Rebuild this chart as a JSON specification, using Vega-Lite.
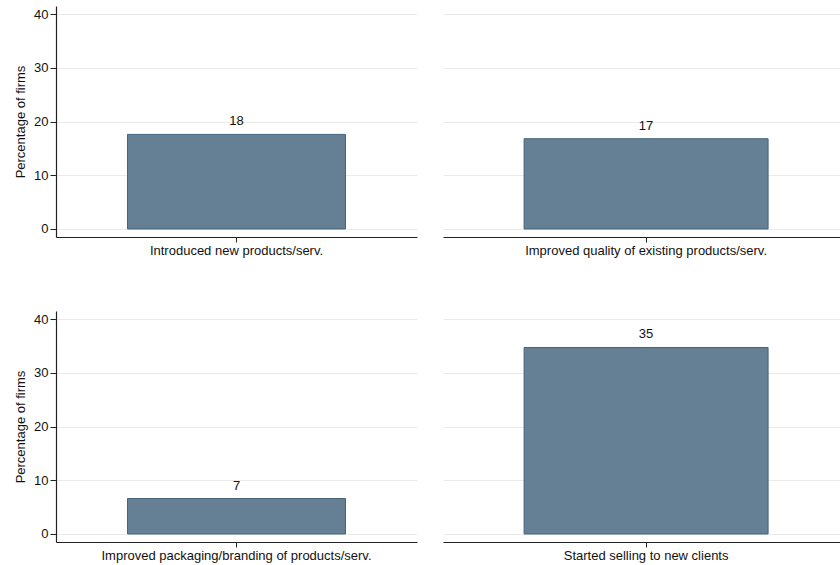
{
  "$schema": "https://vega.github.io/schema/vega-lite/v6.json",
  "background": "white",
  "padding": {"left": 14, "top": 6, "right": 0, "bottom": 8},
  "datasets": {
    "firms": [
      {"panel": 1, "category": "Introduced new products/serv.", "value": 17.6},
      {"panel": 2, "category": "Improved quality of existing products/serv.", "value": 16.8},
      {"panel": 3, "category": "Improved packaging/branding of products/serv.", "value": 6.6},
      {"panel": 4, "category": "Started selling to new clients", "value": 34.7}
    ]
  },
  "config": {
    "font": "Liberation Sans",
    "view": {"stroke": null},
    "axis": {
      "labelFont": "Liberation Sans",
      "titleFont": "Liberation Sans",
      "labelFontSize": 13,
      "titleFontSize": 13,
      "titleFontWeight": "normal",
      "labelColor": "#111111",
      "titleColor": "#111111",
      "domainColor": "#222222",
      "domainWidth": 1.2,
      "tickColor": "#222222",
      "tickWidth": 1,
      "gridColor": "#eaeaea",
      "gridWidth": 1
    }
  },
  "columns": 2,
  "spacing": {"row": 54, "column": 26},
  "concat": [
    {
      "width": 361, "height": 231,
      "data": {"name": "firms"},
      "transform": [{"filter": "datum.panel == 1"}],
      "encoding": {
        "x": {"field": "category", "type": "nominal", "scale": {"paddingInner": 0, "paddingOuter": 0.328, "align": 0.5},
              "axis": {"title": null, "labelAngle": 0, "labelLimit": 0, "tickSize": 5, "labelPadding": 2, "grid": false}},
        "y": {"field": "value", "type": "quantitative", "scale": {"domain": [-1.49, 41.49], "nice": false, "zero": false},
              "axis": {"title": "Percentage of firms", "values": [0, 10, 20, 30, 40], "tickSize": 6, "labelPadding": 2, "titlePadding": 6, "grid": true}}
      },
      "layer": [
        {"mark": {"type": "bar", "fill": "#657f94", "stroke": "#46647c", "strokeWidth": 1}, "encoding": {"y2": {"datum": 0}}},
        {"mark": {"type": "text", "baseline": "bottom", "dy": -6, "fontSize": 13, "color": "#111111"}, "encoding": {"text": {"field": "value", "type": "quantitative", "format": ".0f"}}}
      ]
    },
    {
      "width": 397, "height": 231,
      "data": {"name": "firms"},
      "transform": [{"filter": "datum.panel == 2"}],
      "encoding": {
        "x": {"field": "category", "type": "nominal", "scale": {"paddingInner": 0, "paddingOuter": 0.3135, "align": 0.53},
              "axis": {"title": null, "labelAngle": 0, "labelLimit": 0, "tickSize": 5, "labelPadding": 2, "grid": false}},
        "y": {"field": "value", "type": "quantitative", "scale": {"domain": [-1.49, 41.49], "nice": false, "zero": false},
              "axis": {"title": null, "values": [0, 10, 20, 30, 40], "labels": false, "ticks": false, "domain": false, "grid": true}}
      },
      "layer": [
        {"mark": {"type": "bar", "fill": "#657f94", "stroke": "#46647c", "strokeWidth": 1}, "encoding": {"y2": {"datum": 0}}},
        {"mark": {"type": "text", "baseline": "bottom", "dy": -6, "fontSize": 13, "color": "#111111"}, "encoding": {"text": {"field": "value", "type": "quantitative", "format": ".0f"}}}
      ]
    },
    {
      "width": 361, "height": 231,
      "data": {"name": "firms"},
      "transform": [{"filter": "datum.panel == 3"}],
      "encoding": {
        "x": {"field": "category", "type": "nominal", "scale": {"paddingInner": 0, "paddingOuter": 0.328, "align": 0.5},
              "axis": {"title": null, "labelAngle": 0, "labelLimit": 0, "tickSize": 5, "labelPadding": 2, "grid": false}},
        "y": {"field": "value", "type": "quantitative", "scale": {"domain": [-1.49, 41.49], "nice": false, "zero": false},
              "axis": {"title": "Percentage of firms", "values": [0, 10, 20, 30, 40], "tickSize": 6, "labelPadding": 2, "titlePadding": 6, "grid": true}}
      },
      "layer": [
        {"mark": {"type": "bar", "fill": "#657f94", "stroke": "#46647c", "strokeWidth": 1}, "encoding": {"y2": {"datum": 0}}},
        {"mark": {"type": "text", "baseline": "bottom", "dy": -6, "fontSize": 13, "color": "#111111"}, "encoding": {"text": {"field": "value", "type": "quantitative", "format": ".0f"}}}
      ]
    },
    {
      "width": 397, "height": 231,
      "data": {"name": "firms"},
      "transform": [{"filter": "datum.panel == 4"}],
      "encoding": {
        "x": {"field": "category", "type": "nominal", "scale": {"paddingInner": 0, "paddingOuter": 0.3135, "align": 0.53},
              "axis": {"title": null, "labelAngle": 0, "labelLimit": 0, "tickSize": 5, "labelPadding": 2, "grid": false}},
        "y": {"field": "value", "type": "quantitative", "scale": {"domain": [-1.49, 41.49], "nice": false, "zero": false},
              "axis": {"title": null, "values": [0, 10, 20, 30, 40], "labels": false, "ticks": false, "domain": false, "grid": true}}
      },
      "layer": [
        {"mark": {"type": "bar", "fill": "#657f94", "stroke": "#46647c", "strokeWidth": 1}, "encoding": {"y2": {"datum": 0}}},
        {"mark": {"type": "text", "baseline": "bottom", "dy": -6, "fontSize": 13, "color": "#111111"}, "encoding": {"text": {"field": "value", "type": "quantitative", "format": ".0f"}}}
      ]
    }
  ]
}
